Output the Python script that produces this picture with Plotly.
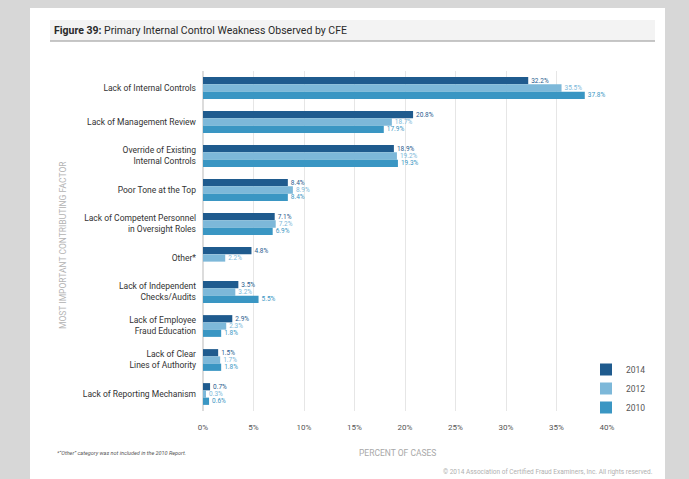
import plotly.graph_objects as go

# Contributing factors (top to bottom) and share of cases per survey year
categories = [
    "Lack of Internal Controls",
    "Lack of Management Review",
    "Override of Existing<br>Internal Controls",
    "Poor Tone at the Top",
    "Lack of Competent Personnel<br>in Oversight Roles",
    "Other*",
    "Lack of Independent<br>Checks/Audits",
    "Lack of Employee<br>Fraud Education",
    "Lack of Clear<br>Lines of Authority",
    "Lack of Reporting Mechanism",
]
pct_2014 = [32.2, 20.8, 18.9, 8.4, 7.1, 4.8, 3.5, 2.9, 1.5, 0.7]
pct_2012 = [35.5, 18.7, 19.2, 8.9, 7.2, 2.2, 3.2, 2.3, 1.7, 0.3]
pct_2010 = [37.8, 17.9, 19.3, 8.4, 6.9, None, 5.5, 1.8, 1.8, 0.6]

series = [
    ("2014", pct_2014, "#1f5b8e"),
    ("2012", pct_2012, "#7db8d9"),
    ("2010", pct_2010, "#3a96c3"),
]

W, H = 689, 479
L, R, T, B = 203, 607, 71, 411


def px_x(v):
    return (v - L) / (R - L)


def px_y(v):
    return (B - v) / (B - T)


fig = go.Figure()
for name, vals, color in series:
    fig.add_trace(go.Bar(
        y=categories, x=vals, name=name, orientation="h",
        marker=dict(color=color, line=dict(width=0)),
        text=[None if v is None else f"{v:.1f}%" for v in vals],
        textposition="outside", cliponaxis=False, constraintext="none",
        textfont=dict(size=6.5, color=color, family="Roboto"),
    ))

shapes = [
    # page card
    dict(type="rect", xref="paper", yref="paper", layer="below",
         x0=px_x(30), x1=px_x(665), y0=px_y(8), y1=px_y(479),
         fillcolor="white", line=dict(width=0)),
    # title band
    dict(type="rect", xref="paper", yref="paper", layer="below",
         x0=px_x(50), x1=px_x(655), y0=px_y(20), y1=px_y(41),
         fillcolor="#f3f3f3", line=dict(width=0)),
    dict(type="line", xref="paper", yref="paper",
         x0=px_x(50), x1=px_x(655), y0=px_y(41), y1=px_y(41),
         line=dict(color="#b5b5b5", width=1.5)),
]

annotations = [
    dict(text="<b>Figure 39:</b> Primary Internal Control Weakness Observed by CFE",
         x=px_x(52), y=px_y(31), xref="paper", yref="paper",
         xanchor="left", yanchor="middle", showarrow=False,
         font=dict(size=10.5, color="#2a2a2a", family="Roboto")),
    dict(text="MOST IMPORTANT CONTRIBUTING FACTOR", textangle=-90,
         x=px_x(63), y=px_y(245), xref="paper", yref="paper",
         xanchor="center", yanchor="middle", showarrow=False,
         font=dict(size=8.5, color="#b3b3b3", family="Roboto")),
    dict(text="PERCENT OF CASES",
         x=px_x(397), y=px_y(453), xref="paper", yref="paper",
         xanchor="center", yanchor="middle", showarrow=False,
         font=dict(size=8.5, color="#a8a8a8", family="Roboto")),
    dict(text="<i>*\u201cOther\u201d category was not included in the 2010 Report.</i>",
         x=px_x(55), y=px_y(453), xref="paper", yref="paper",
         xanchor="left", yanchor="middle", showarrow=False,
         font=dict(size=5.5, color="#555555", family="Roboto")),
    dict(text="\u00a9 2014 Association of Certified Fraud Examiners, Inc. All rights reserved.",
         x=px_x(655), y=px_y(472), xref="paper", yref="paper",
         xanchor="right", yanchor="middle", showarrow=False,
         font=dict(size=6.5, color="#b0b0b0", family="Roboto")),
]

fig.update_layout(
    width=W, height=H,
    margin=dict(l=L, r=W - R, t=T, b=H - B),
    paper_bgcolor="#d7d7d7", plot_bgcolor="white",
    barmode="group", bargap=0.36, bargroupgap=0,
    font=dict(family="Roboto", color="#333333"),
    shapes=shapes, annotations=annotations,
    legend=dict(x=px_x(586), y=px_y(355), xanchor="left", yanchor="top",
                bgcolor="rgba(0,0,0,0)", font=dict(size=8.5, color="#555555"),
                itemwidth=30, tracegroupgap=0),
    xaxis=dict(range=[0, 40], dtick=5, ticksuffix="%", showgrid=True,
               gridcolor="#e6e6e6", gridwidth=1, zeroline=True,
               zerolinecolor="#dcdcdc", ticks="", ticklabelstandoff=10,
               tickfont=dict(size=8, color="#555555"), fixedrange=True),
    yaxis=dict(autorange="reversed", ticks="", showgrid=False,
               tickfont=dict(size=8.5, color="#333333"), ticklabelstandoff=6),
)

fig.write_html("out.html")
